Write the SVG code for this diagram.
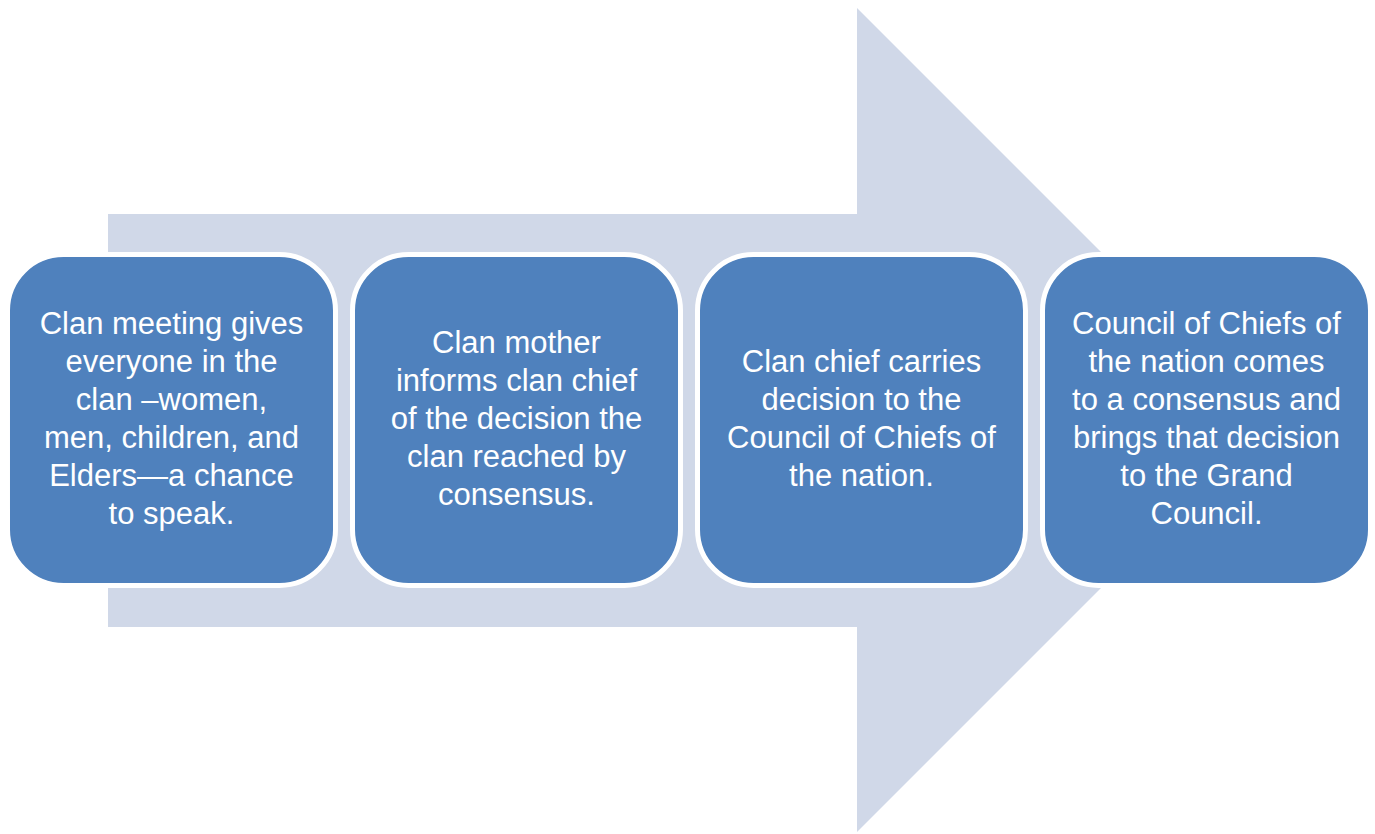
<svg xmlns="http://www.w3.org/2000/svg" width="1375" height="834" viewBox="0 0 1375 834">
<style>
.box{fill:#4F81BD;stroke:#FFFFFF;stroke-width:5}
.lbl{font-family:"Liberation Sans",Arial,sans-serif;font-size:31px;fill:#FFFFFF;text-anchor:middle}
</style>
<rect width="1375" height="834" fill="#FFFFFF"/>
<g id="arrow">
<polygon points="108,214 857,214 857,8 1269,420 857,832 857,627 108,627" fill="#D0D8E8"/>
</g>
<g id="node1">
<rect class="box" x="7.5" y="254.5" width="328" height="331" rx="56"/>
<text class="lbl" x="171.5" y="334">Clan meeting gives</text>
<text class="lbl" x="171.5" y="372">everyone in the</text>
<text class="lbl" x="171.5" y="410">clan –women,</text>
<text class="lbl" x="171.5" y="448">men, children, and</text>
<text class="lbl" x="171.5" y="486">Elders—a chance</text>
<text class="lbl" x="171.5" y="524">to speak.</text>
</g>
<g id="node2">
<rect class="box" x="352.5" y="254.5" width="328" height="331" rx="56"/>
<text class="lbl" x="516.5" y="353">Clan mother</text>
<text class="lbl" x="516.5" y="391">informs clan chief</text>
<text class="lbl" x="516.5" y="429">of the decision the</text>
<text class="lbl" x="516.5" y="467">clan reached by</text>
<text class="lbl" x="516.5" y="505">consensus.</text>
</g>
<g id="node3">
<rect class="box" x="697.5" y="254.5" width="328" height="331" rx="56"/>
<text class="lbl" x="861.5" y="372">Clan chief carries</text>
<text class="lbl" x="861.5" y="410">decision to the</text>
<text class="lbl" x="861.5" y="448">Council of Chiefs of</text>
<text class="lbl" x="861.5" y="486">the nation.</text>
</g>
<g id="node4">
<rect class="box" x="1042.5" y="254.5" width="328" height="331" rx="56"/>
<text class="lbl" x="1206.5" y="334">Council of Chiefs of</text>
<text class="lbl" x="1206.5" y="372">the nation comes</text>
<text class="lbl" x="1206.5" y="410">to a consensus and</text>
<text class="lbl" x="1206.5" y="448">brings that decision</text>
<text class="lbl" x="1206.5" y="486">to the Grand</text>
<text class="lbl" x="1206.5" y="524">Council.</text>
</g>
<g id="connectors"></g>
</svg>
